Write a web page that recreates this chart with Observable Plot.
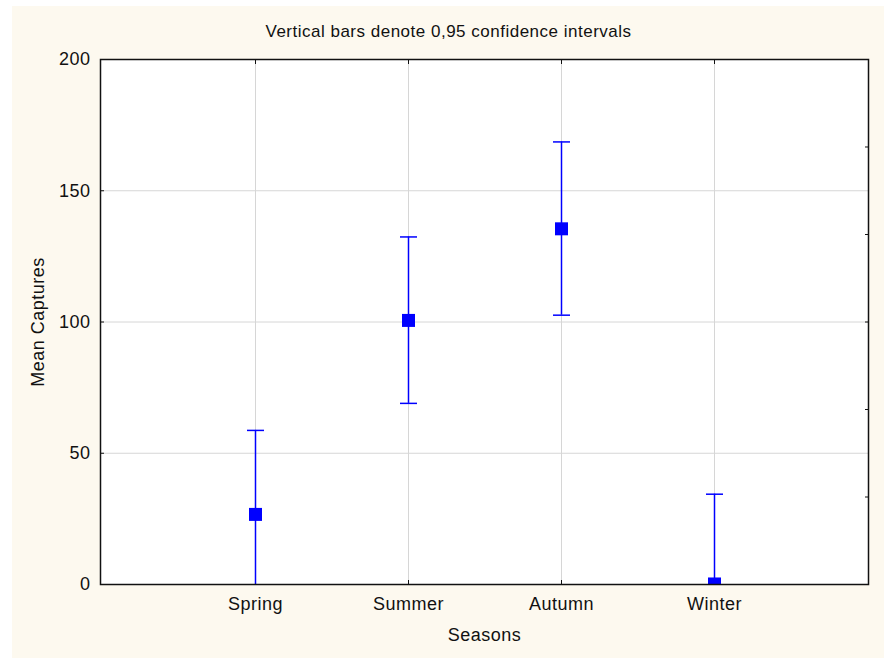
<!DOCTYPE html>
<html>
<head>
<meta charset="utf-8">
<script src="https://cdn.jsdelivr.net/npm/d3@7"></script>
<script src="https://cdn.jsdelivr.net/npm/@observablehq/plot@0.6"></script>
<style>
  html, body { margin: 0; padding: 0; background: #ffffff; }
  #chart { position: absolute; left: 12px; top: 6px; }
  #chart svg text { letter-spacing: 0.5px; }
</style>
</head>
<body>
<div id="chart"></div>
<script>
// Data
const seasons = ["Spring", "Summer", "Autumn", "Winter"];
const means = [26.7, 100.6, 135.5, 0.2];
const lowers = [-5.3, 69.0, 102.6, -34.2];
const uppers = [58.7, 132.4, 168.6, 34.4];
const yTicks = [0, 50, 100, 150, 200];
const yGrid = [50, 100, 150];
const rightTicks = [0, 33.33, 66.67, 100, 133.33, 166.67, 200];
const title = "Vertical bars denote 0,95 confidence intervals";
const xLabel = "Seasons";
const yLabel = "Mean Captures";

const data = seasons.map((s, i) => ({season: s, mean: means[i], lo: lowers[i], hi: uppers[i]}));

const blue = "#0000ff";
const capSymbol = {
  draw(ctx, size) {
    const w = Math.sqrt(size);
    ctx.moveTo(-w / 2, 0);
    ctx.lineTo(w / 2, 0);
  }
};

const noText = () => "";

const chart = Plot.plot({
  width: 872,
  height: 652,
  marginLeft: 88,
  marginRight: 16,
  marginTop: 53,
  marginBottom: 74,
  style: {background: "#fdf9ef", fontFamily: "'Liberation Sans', Arial, sans-serif", fontSize: "18px", color: "#111"},
  x: {type: "point", domain: seasons, padding: 1, label: null},
  y: {domain: [0, 200], label: null},
  marks: [
    Plot.frame({fill: "white", stroke: null}),
    Plot.gridY(yGrid, {stroke: "#d6d6d6", strokeOpacity: 1}),
    Plot.gridX({stroke: "#d6d6d6", strokeOpacity: 1}),
    Plot.axisY({ticks: yTicks, tickSize: 0, tickPadding: 10, label: null}),
    Plot.axisY({ticks: yTicks, tickSize: -4, tickFormat: noText, label: null}),
    Plot.axisY({anchor: "right", ticks: rightTicks, tickSize: -4, tickFormat: noText, label: null}),
    Plot.axisX({tickSize: 0, tickPadding: 13, label: null}),
    Plot.axisX({tickSize: -4, tickFormat: noText, label: null}),
    Plot.axisX({anchor: "top", tickSize: -4, tickFormat: noText, label: null}),
    Plot.ruleX(data, {x: "season", y1: "lo", y2: "hi", stroke: blue, strokeWidth: 1.5, clip: true}),
    Plot.dot(data, {x: "season", y: "hi", symbol: capSymbol, r: 17 / Math.sqrt(Math.PI), stroke: blue, strokeWidth: 1.5, fill: "none", clip: true}),
    Plot.dot(data, {x: "season", y: "lo", symbol: capSymbol, r: 17 / Math.sqrt(Math.PI), stroke: blue, strokeWidth: 1.5, fill: "none", clip: true}),
    Plot.dot(data, {x: "season", y: "mean", symbol: "square", r: 13 / Math.sqrt(Math.PI), fill: blue, stroke: null, clip: true}),
    Plot.frame({stroke: "#111", strokeWidth: 1.5}),
    Plot.text([title], {frameAnchor: "top", dx: -36, dy: -28, fontSize: 17, fill: "#111", lineAnchor: "middle", textAnchor: "middle"}),
    Plot.text([xLabel], {frameAnchor: "bottom", dy: 51, fontSize: 18, fill: "#111", lineAnchor: "middle", textAnchor: "middle"}),
    Plot.text([yLabel], {frameAnchor: "left", dx: -62, rotate: -90, fontSize: 18, fill: "#111", lineAnchor: "middle", textAnchor: "middle"})
  ]
});
document.getElementById("chart").appendChild(chart);
</script>
</body>
</html>
